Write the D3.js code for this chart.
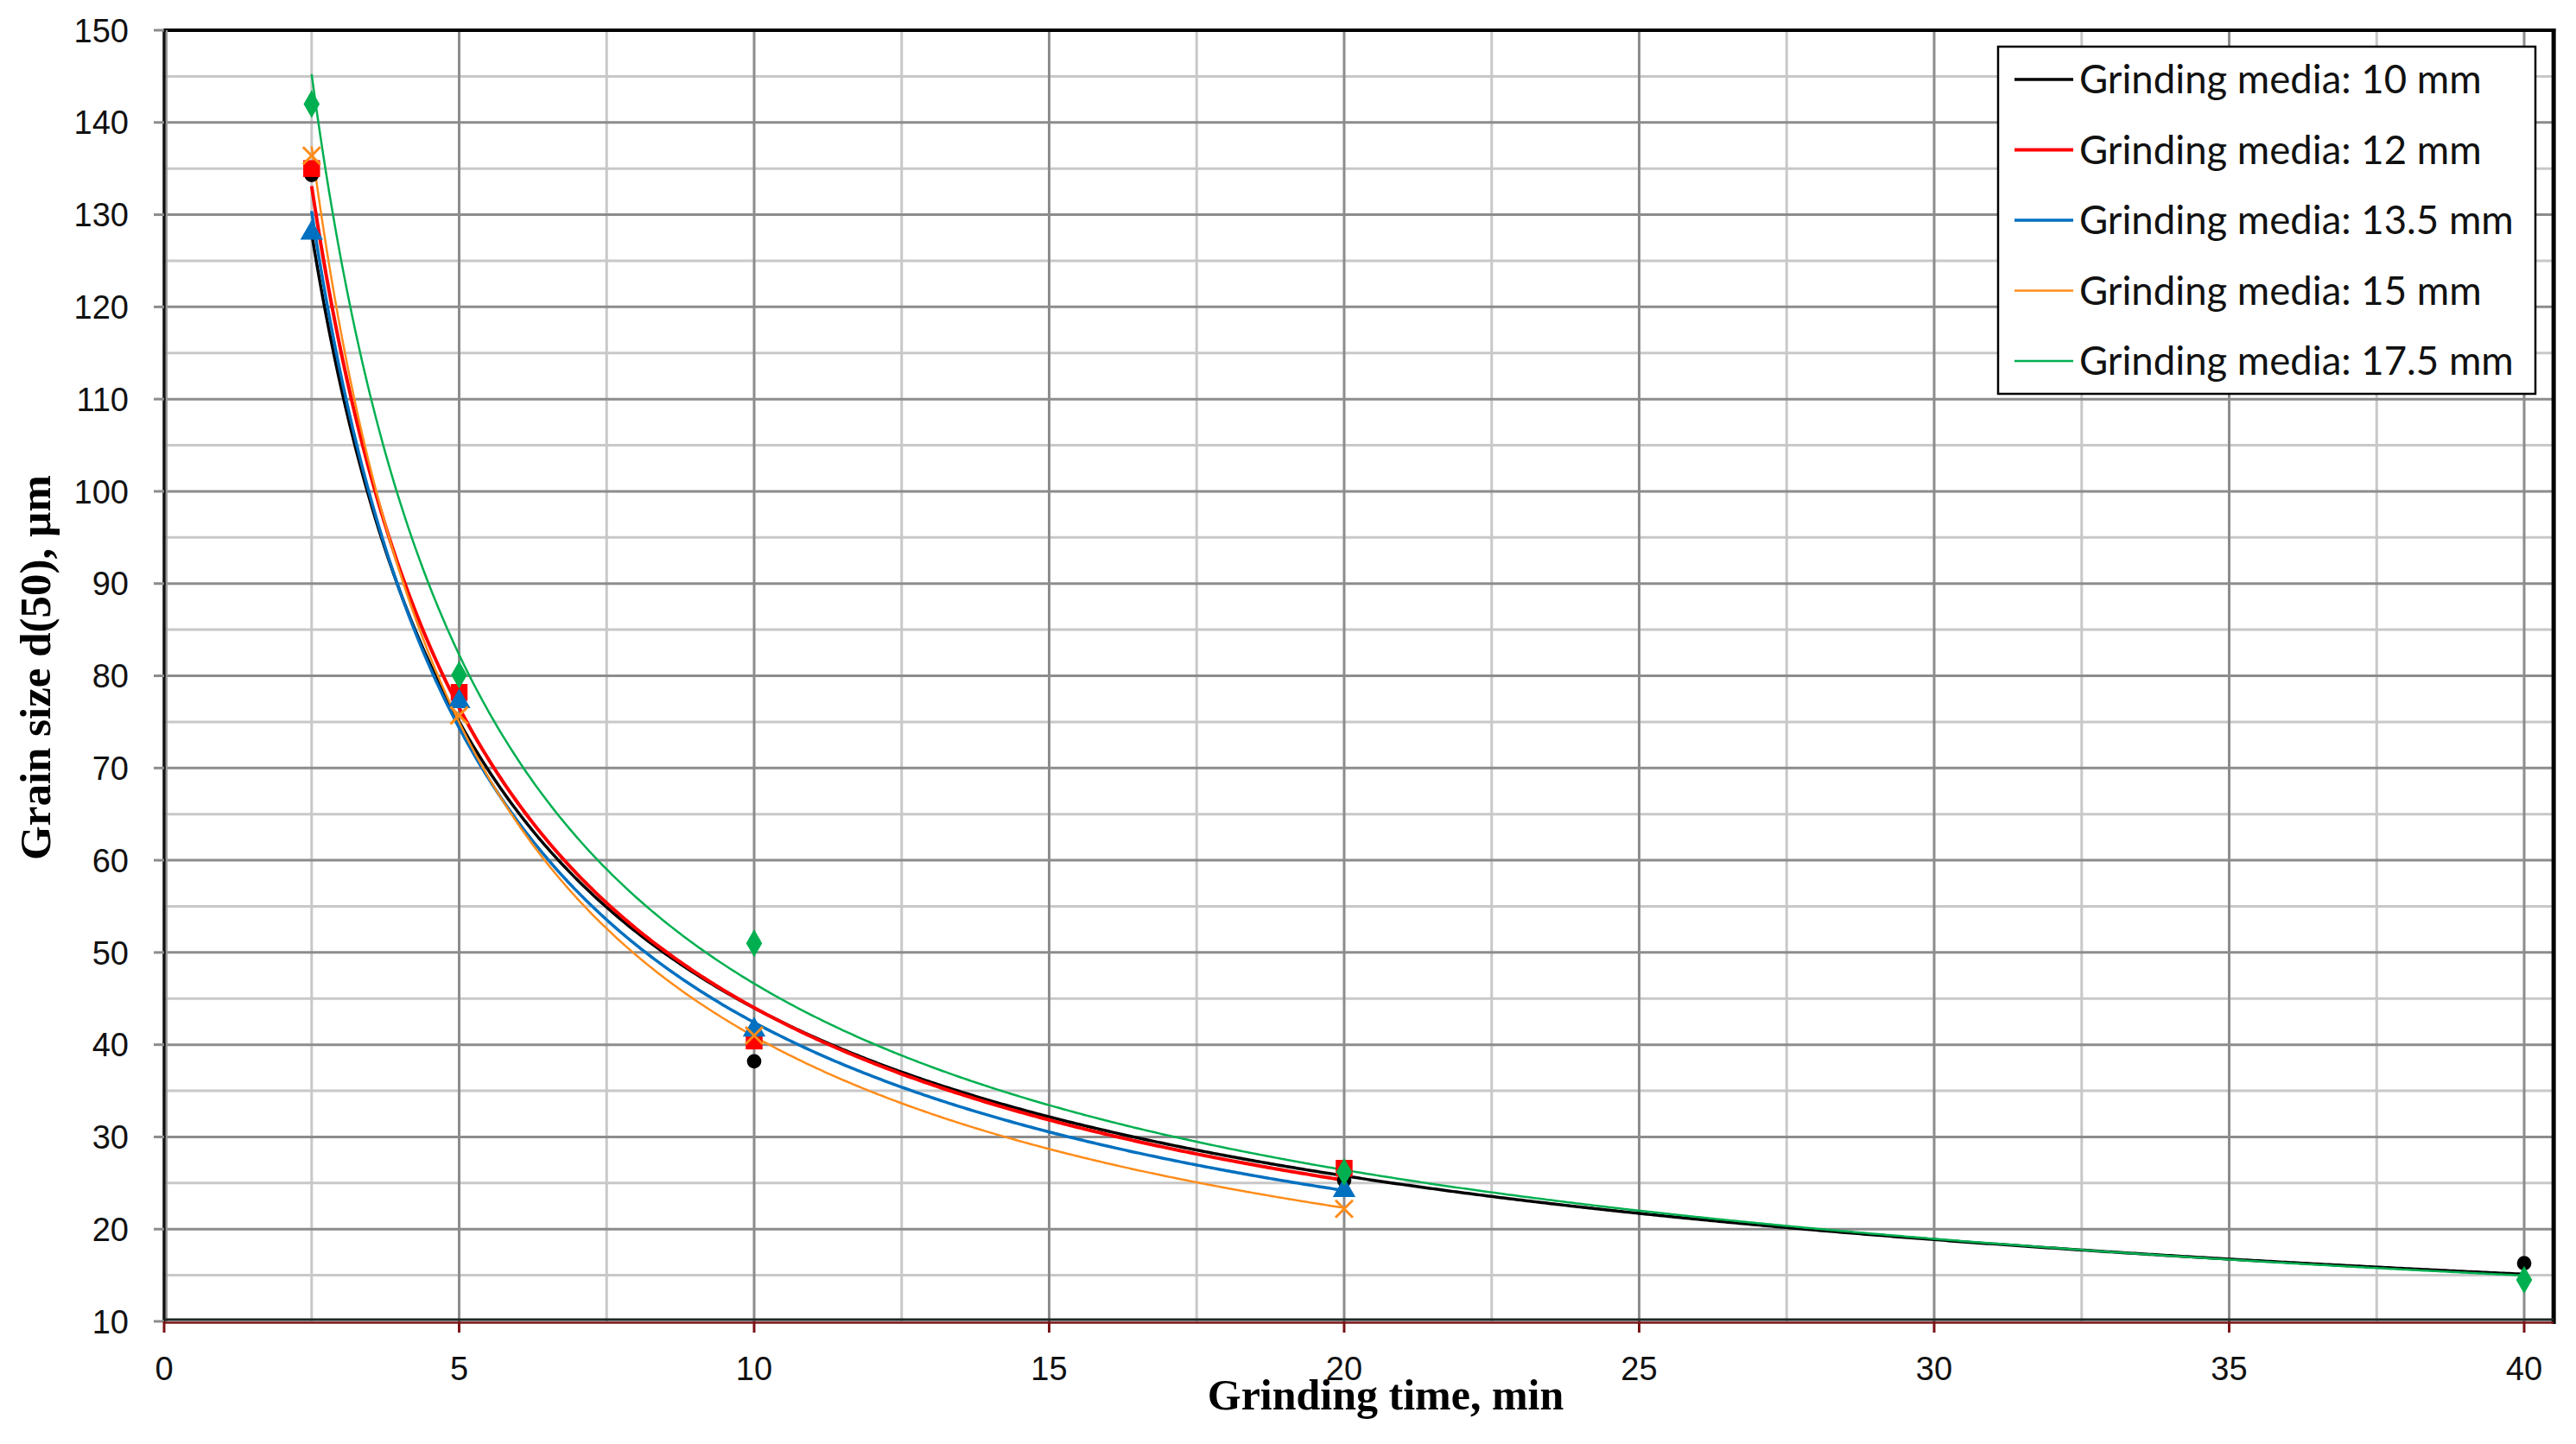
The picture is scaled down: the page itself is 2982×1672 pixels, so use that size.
<!DOCTYPE html>
<html>
<head>
<meta charset="utf-8">
<script src="https://cdn.jsdelivr.net/npm/d3@7"></script>
<style>
  html, body { margin: 0; padding: 0; background: #fff; }
  svg { display: block; }
</style>
</head>
<body>
<svg id="chart" width="2982" height="1672"></svg>
<script>
const times = [2.5, 5, 10, 20, 40]
const seriesNames = [
  "Grinding media: 10 mm",
  "Grinding media: 12 mm",
  "Grinding media: 13.5 mm",
  "Grinding media: 15 mm",
  "Grinding media: 17.5 mm"
]
const d10 = [134.3, 77.8, 38.2, 25.3, 16.3]
const d12 = [135.0, 78.2, 40.4, 26.6]
const d135 = [128.0, 77.2, 41.6, 24.2]
const d15 = [136.4, 75.7, 41.0, 22.2]
const d175 = [142.0, 80.1, 51.0, 26.2, 14.5]

const xTicks = [0, 5, 10, 15, 20, 25, 30, 35, 40]
const yTicks = [10, 20, 30, 40, 50, 60, 70, 80, 90, 100, 110, 120, 130, 140, 150]

const colors = ["#000000", "#ff0000", "#0070c0", "#ff8c1a", "#00b050"]
const lineWidths = [3.5, 4, 3.5, 2.5, 2.5]
const markers = ["circle", "square", "triangle", "cross", "diamond"]

const series = [d10, d12, d135, d15, d175].map((vals, i) => ({
  name: seriesNames[i],
  color: colors[i],
  width: lineWidths[i],
  marker: markers[i],
  points: vals.map((v, j) => ({ x: times[j], y: v }))
}))

const svg = d3.select("#chart")

const x = d3.scaleLinear().domain([0, 40]).range([190, 2922])
const y = d3.scaleLinear().domain([10, 150]).range([1530, 35])
const xRight = x(40.5)

// grid: minor every 2.5 / 5, major every 5 / 10
const grid = svg.append("g")
grid.selectAll(".vminor")
  .data(d3.range(2.5, 40.1, 5))
  .enter().append("line")
  .attr("x1", d => x(d)).attr("x2", d => x(d))
  .attr("y1", y(150)).attr("y2", y(10))
  .attr("stroke", "#c8c8c8").attr("stroke-width", 3)
grid.selectAll(".hminor")
  .data(d3.range(15, 150, 10))
  .enter().append("line")
  .attr("x1", x(0)).attr("x2", xRight)
  .attr("y1", d => y(d)).attr("y2", d => y(d))
  .attr("stroke", "#c8c8c8").attr("stroke-width", 3)
grid.selectAll(".vmajor")
  .data(xTicks.slice(1))
  .enter().append("line")
  .attr("x1", d => x(d)).attr("x2", d => x(d))
  .attr("y1", y(150)).attr("y2", y(10))
  .attr("stroke", "#8c8c8c").attr("stroke-width", 3)
grid.selectAll(".hmajor")
  .data(yTicks.slice(1))
  .enter().append("line")
  .attr("x1", x(0)).attr("x2", xRight)
  .attr("y1", d => y(d)).attr("y2", d => y(d))
  .attr("stroke", "#8c8c8c").attr("stroke-width", 3)

// power trendlines, least squares in log-log space (as Excel does)
function powerFit(pts) {
  const lx = pts.map(p => Math.log(p.x)), ly = pts.map(p => Math.log(p.y))
  const mx = d3.mean(lx), my = d3.mean(ly)
  const b = d3.sum(lx, (v, i) => (v - mx) * (ly[i] - my)) / d3.sum(lx, v => (v - mx) ** 2)
  const a = Math.exp(my - b * mx)
  return t => a * Math.pow(t, b)
}

const line = d3.line().x(d => x(d[0])).y(d => y(d[1])).curve(d3.curveLinear)

svg.append("defs").append("clipPath").attr("id", "plotclip")
  .append("rect").attr("x", x(0)).attr("y", y(150))
  .attr("width", xRight - x(0)).attr("height", y(10) - y(150))

const trends = svg.append("g").attr("clip-path", "url(#plotclip)")
series.forEach(s => {
  const f = powerFit(s.points)
  const x0 = s.points[0].x, x1 = s.points[s.points.length - 1].x
  const ts = d3.range(x0, x1, 0.05).concat([x1])
  trends.append("path")
    .datum(ts.map(t => [t, f(t)]))
    .attr("d", line)
    .attr("fill", "none")
    .attr("stroke", s.color)
    .attr("stroke-width", s.width)
})

// markers
const symbolTypes = {
  circle: d3.symbolCircle,
  square: d3.symbolSquare,
  triangle: d3.symbolTriangle,
  diamond: d3.symbolDiamond
}
const symbolSizes = { circle: 220, square: 380, triangle: 300, diamond: 300 }

series.forEach(s => {
  const g = svg.append("g")
  if (s.marker === "cross") {
    s.points.forEach(p => {
      const cx = x(p.x), cy = y(p.y), r = 10
      g.append("path")
        .attr("d", `M${cx - r},${cy - r}L${cx + r},${cy + r}M${cx - r},${cy + r}L${cx + r},${cy - r}`)
        .attr("stroke", s.color).attr("stroke-width", 3).attr("fill", "none")
    })
  } else {
    g.selectAll("path")
      .data(s.points)
      .enter().append("path")
      .attr("transform", d => `translate(${x(d.x)},${y(d.y)})`)
      .attr("d", d3.symbol().type(symbolTypes[s.marker]).size(symbolSizes[s.marker]))
      .attr("fill", s.color)
  }
})

// frame and axes
svg.append("line")
  .attr("x1", x(0) - 1).attr("x2", xRight + 2).attr("y1", y(150)).attr("y2", y(150))
  .attr("stroke", "#000").attr("stroke-width", 4)
svg.append("line")
  .attr("x1", xRight).attr("x2", xRight).attr("y1", y(150) - 2).attr("y2", y(10) + 3)
  .attr("stroke", "#000").attr("stroke-width", 5)
svg.append("line")
  .attr("x1", x(0) + 3).attr("x2", x(0) + 3).attr("y1", y(150)).attr("y2", y(10))
  .attr("stroke", "#9a9a9a").attr("stroke-width", 2)
svg.append("line")
  .attr("x1", x(0)).attr("x2", x(0)).attr("y1", y(150)).attr("y2", y(10))
  .attr("stroke", "#111").attr("stroke-width", 3.5)
svg.append("line")
  .attr("x1", x(0)).attr("x2", xRight).attr("y1", y(10) - 2).attr("y2", y(10) - 2)
  .attr("stroke", "#1e2626").attr("stroke-width", 3)
svg.append("line")
  .attr("x1", x(0)).attr("x2", xRight).attr("y1", y(10) + 1.5).attr("y2", y(10) + 1.5)
  .attr("stroke", "#7a1416").attr("stroke-width", 2.5)

// y ticks and labels
const yAxis = svg.append("g")
yAxis.selectAll("line")
  .data(yTicks)
  .enter().append("line")
  .attr("x1", x(0) - 12).attr("x2", x(0))
  .attr("y1", d => y(d)).attr("y2", d => y(d))
  .attr("stroke", "#8c8c8c").attr("stroke-width", 3)
yAxis.selectAll("text")
  .data(yTicks)
  .enter().append("text")
  .attr("x", 149)
  .attr("y", d => y(d))
  .attr("dy", "0.36em")
  .attr("text-anchor", "end")
  .attr("font-family", "Liberation Sans, Arial, sans-serif")
  .attr("font-size", 38)
  .attr("fill", "#111")
  .text(d => d)

// x ticks and labels
const xAxis = svg.append("g")
xAxis.selectAll("line")
  .data(xTicks)
  .enter().append("line")
  .attr("x1", d => x(d)).attr("x2", d => x(d))
  .attr("y1", y(10)).attr("y2", y(10) + 13)
  .attr("stroke", "#7a1416").attr("stroke-width", 3)
xAxis.selectAll("text")
  .data(xTicks)
  .enter().append("text")
  .attr("x", d => x(d))
  .attr("y", 1598)
  .attr("text-anchor", "middle")
  .attr("font-family", "Liberation Sans, Arial, sans-serif")
  .attr("font-size", 38)
  .attr("fill", "#111")
  .text(d => d)

// axis titles
svg.append("text")
  .attr("x", 1604).attr("y", 1632)
  .attr("text-anchor", "middle")
  .attr("font-family", "Liberation Serif, Times New Roman, serif")
  .attr("font-weight", "bold")
  .attr("font-size", 50)
  .text("Grinding time, min")
svg.append("text")
  .attr("transform", "translate(58,773) rotate(-90)")
  .attr("text-anchor", "middle")
  .attr("font-family", "Liberation Serif, Times New Roman, serif")
  .attr("font-weight", "bold")
  .attr("font-size", 51)
  .text("Grain size d(50), µm")

// legend
const legend = svg.append("g")
legend.append("rect")
  .attr("x", 2313).attr("y", 54)
  .attr("width", 622).attr("height", 402)
  .attr("fill", "#fff").attr("stroke", "#000").attr("stroke-width", 2.5)
const rows = legend.selectAll(".row")
  .data(series)
  .enter().append("g")
  .attr("transform", (d, i) => `translate(0,${92 + i * 81.5})`)
rows.append("line")
  .attr("x1", 2332).attr("x2", 2400)
  .attr("y1", 0).attr("y2", 0)
  .attr("stroke", d => d.color)
  .attr("stroke-width", d => d.width)
rows.append("text")
  .attr("x", 2407)
  .attr("y", 0)
  .attr("dy", "0.36em")
  .attr("font-family", "Lato, sans-serif")
  .attr("font-size", 45.5)
  .attr("fill", "#111")
  .text(d => d.name)
</script>
</body>
</html>
